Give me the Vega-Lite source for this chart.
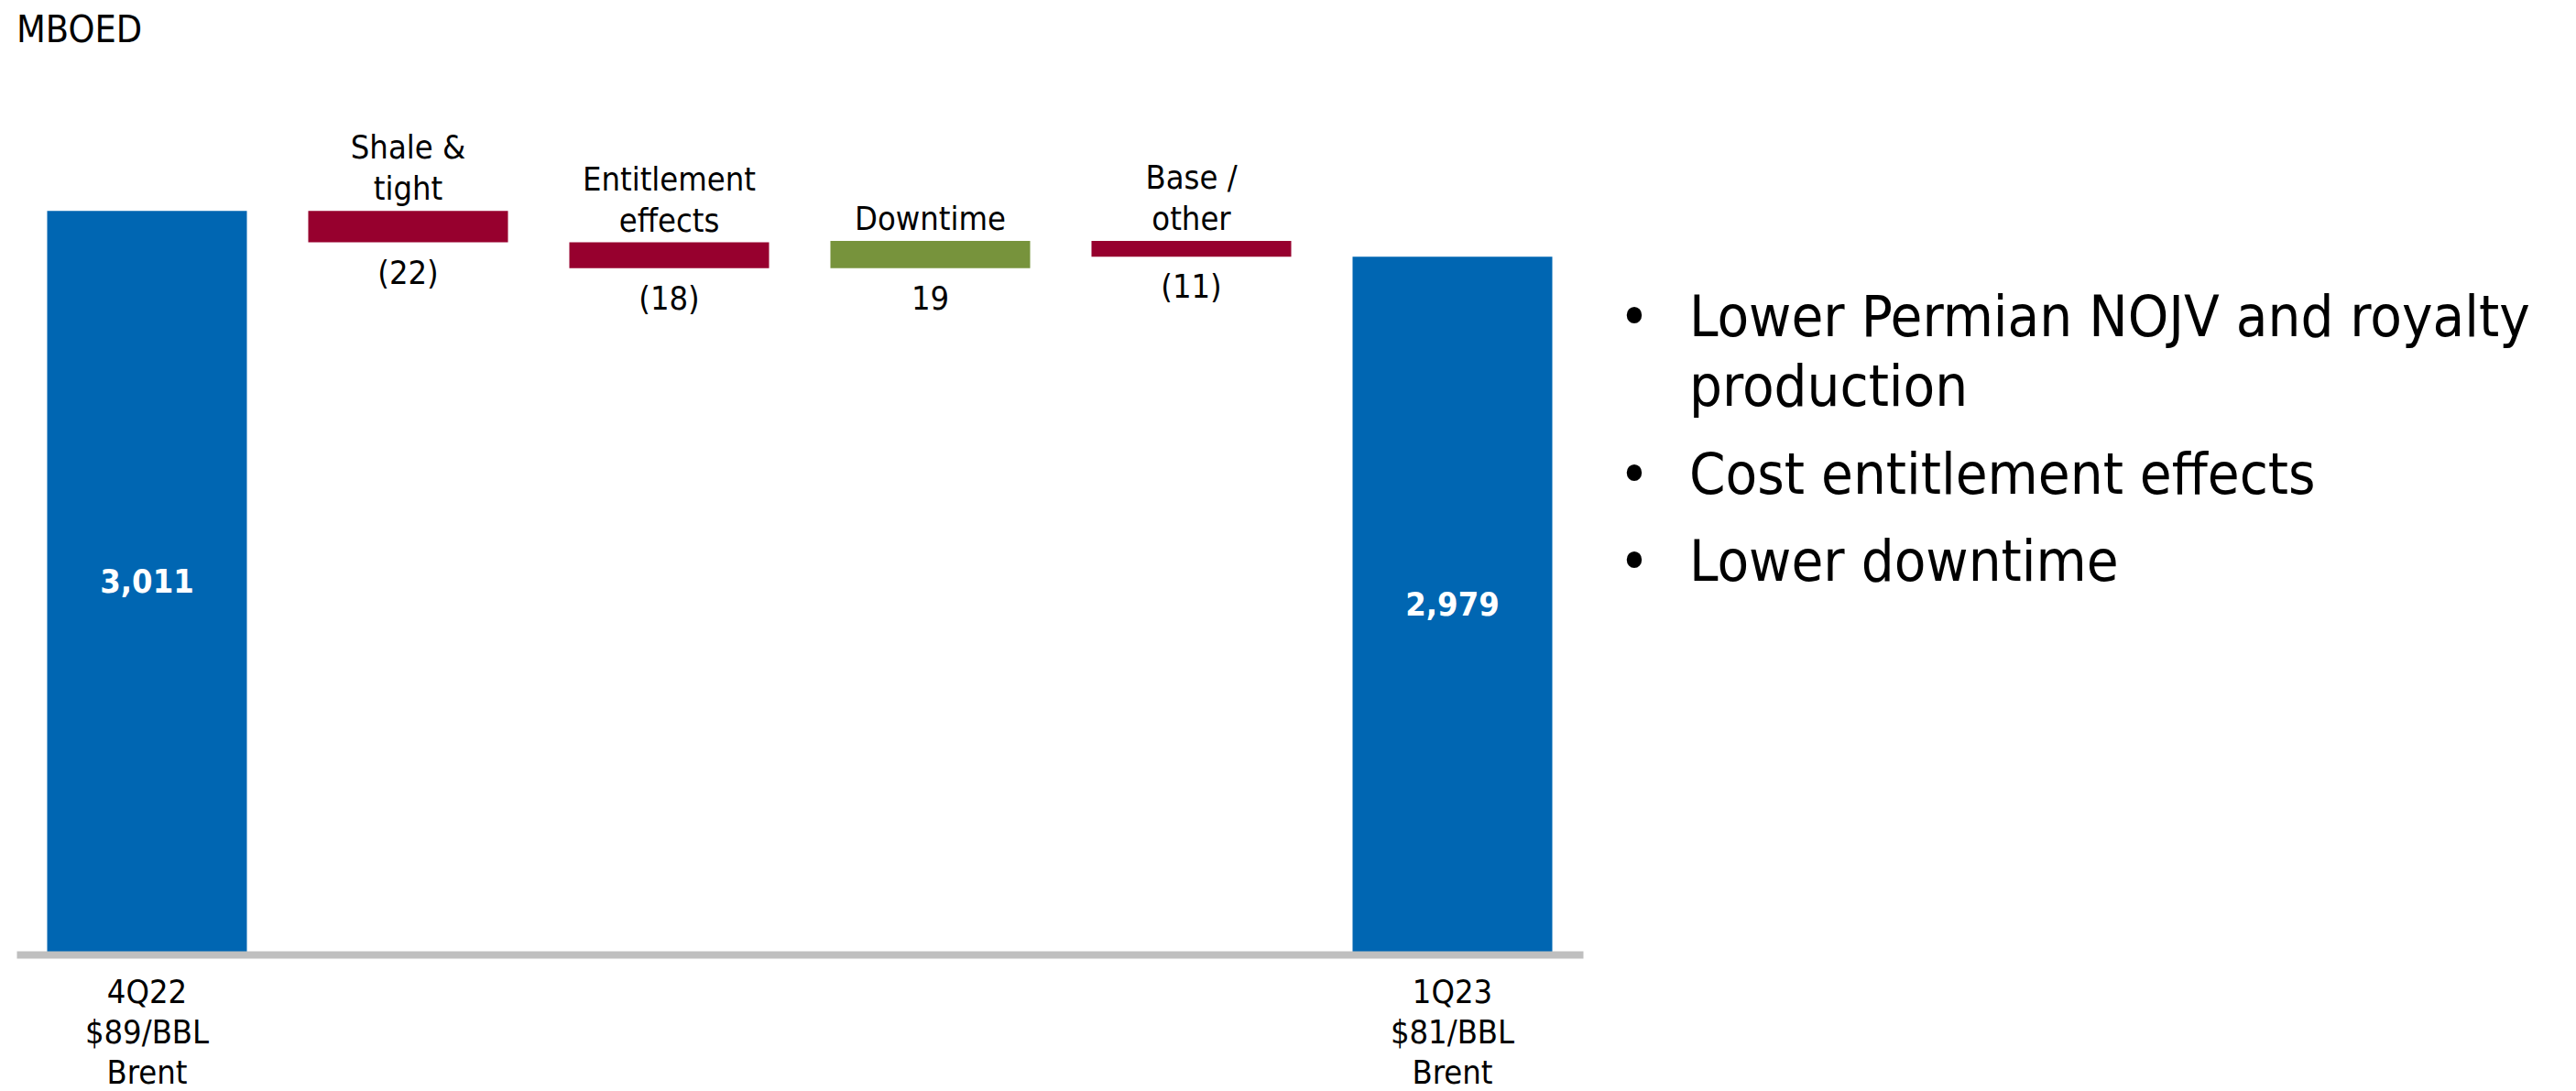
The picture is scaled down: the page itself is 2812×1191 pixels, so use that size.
{
  "$schema": "https://vega.github.io/schema/vega-lite/v6.json",
  "padding": {"left": 18, "top": 13, "right": 0, "bottom": 0},
  "background": "white",
  "title": {"text": "MBOED", "anchor": "start", "frame": "group", "fontSize": 41, "font": "DejaVu Sans Condensed", "fontWeight": "normal", "color": "#000000", "baseline": "top", "offset": 46},
  "config": {"view": {"stroke": null}, "font": "DejaVu Sans Condensed"},
  "bounds": "flush",
  "spacing": 56,
  "hconcat": [
    {
      "width": 1710,
      "height": 941,
      "data": {"values": [
        {"cat": "4Q22|$89/BBL|Brent", "kind": "total", "start": 0, "end": 3011, "lab": "3,011"},
        {"cat": "Shale &|tight", "kind": "down", "start": 3011, "end": 2989, "lab": "(22)"},
        {"cat": "Entitlement|effects", "kind": "down", "start": 2989, "end": 2971, "lab": "(18)"},
        {"cat": "Downtime", "kind": "up", "start": 2971, "end": 2990, "lab": "19"},
        {"cat": "Base /|other", "kind": "down", "start": 2990, "end": 2979, "lab": "(11)"},
        {"cat": "1Q23|$81/BBL|Brent", "kind": "total", "start": 0, "end": 2979, "lab": "2,979"}
      ]},
      "transform": [
        {"calculate": "min(datum.start, datum.end)", "as": "lo"},
        {"calculate": "max(datum.start, datum.end)", "as": "hi"},
        {"calculate": "(max(datum.start, 2490) + datum.end) / 2", "as": "mid"}
      ],
      "encoding": {
        "x": {
          "field": "cat", "type": "nominal", "sort": null,
          "scale": {"paddingInner": 0.235, "paddingOuter": 0.1175},
          "axis": {
            "title": null, "ticks": false, "tickSize": 0, "labelPadding": 24,
            "labelFontSize": 36, "labelColor": "#000000", "labelLineHeight": 44,
            "labelFont": "DejaVu Sans Condensed",
            "labelExpr": "indexof(datum.value, 'Brent') >= 0 ? split(datum.value, '|') : ''",
            "labelAngle": 0, "labelOverlap": false, "domain": true, "domainColor": "#BFBFBF",
            "domainWidth": 8, "zindex": 1, "grid": false
          }
        }
      },
      "layer": [
        {
          "mark": {"type": "bar"},
          "encoding": {
            "y": {"field": "start", "type": "quantitative", "scale": {"domain": [2490, 3094], "zero": false, "nice": false, "clamp": true}, "axis": null},
            "y2": {"field": "end"},
            "color": {"field": "kind", "type": "nominal", "scale": {"domain": ["total", "down", "up"], "range": ["#0066B2", "#97002E", "#77933C"]}, "legend": null}
          }
        },
        {
          "transform": [{"filter": "datum.kind == 'total'"}],
          "mark": {"type": "text", "color": "#FFFFFF", "fontWeight": "bold", "fontSize": 36, "baseline": "middle", "align": "center"},
          "encoding": {
            "y": {"field": "mid", "type": "quantitative", "scale": {"domain": [2490, 3094], "zero": false, "nice": false, "clamp": true}, "axis": null},
            "text": {"field": "lab"}
          }
        },
        {
          "transform": [{"filter": "datum.kind != 'total'"}],
          "mark": {"type": "text", "color": "#000000", "fontSize": 36, "baseline": "top", "align": "center", "dy": 17},
          "encoding": {
            "y": {"field": "lo", "type": "quantitative", "scale": {"domain": [2490, 3094], "zero": false, "nice": false, "clamp": true}, "axis": null},
            "text": {"field": "lab"}
          }
        },
        {
          "transform": [{"filter": "datum.kind != 'total' && indexof(datum.cat, '|') < 0"}],
          "mark": {"type": "text", "color": "#000000", "fontSize": 36, "baseline": "bottom", "align": "center", "dy": -4, "lineBreak": "|", "lineHeight": 45},
          "encoding": {
            "y": {"field": "hi", "type": "quantitative", "scale": {"domain": [2490, 3094], "zero": false, "nice": false, "clamp": true}, "axis": null},
            "text": {"field": "cat"}
          }
        },
        {
          "transform": [{"filter": "datum.kind != 'total' && indexof(datum.cat, '|') >= 0"}],
          "mark": {"type": "text", "color": "#000000", "fontSize": 36, "baseline": "bottom", "align": "center", "dy": -49, "lineBreak": "|", "lineHeight": 45},
          "encoding": {
            "y": {"field": "hi", "type": "quantitative", "scale": {"domain": [2490, 3094], "zero": false, "nice": false, "clamp": true}, "axis": null},
            "text": {"field": "cat"}
          }
        }
      ]
    },
    {
      "width": 60,
      "height": 941,
      "data": {"values": [
        {"n": "1", "dot": "•", "txt": "Lower Permian NOJV and royalty|production"},
        {"n": "2", "dot": "•", "txt": "Cost entitlement effects"},
        {"n": "3", "dot": "•", "txt": "Lower downtime"}
      ]},
      "encoding": {
        "y": {"field": "n", "type": "ordinal", "scale": {"type": "point", "range": [355, 546], "padding": 0}, "axis": null}
      },
      "layer": [
        {
          "transform": [{"filter": "indexof(datum.txt, '|') < 0"}],
          "mark": {"type": "text", "align": "center", "baseline": "bottom", "fontSize": 63, "color": "#000000"},
          "encoding": {
            "x": {"datum": "dot", "type": "nominal", "scale": {"type": "point", "domain": ["dot", "text"], "padding": 0}, "axis": null},
            "text": {"field": "dot"}
          }
        },
        {
          "transform": [{"filter": "indexof(datum.txt, '|') >= 0"}],
          "mark": {"type": "text", "align": "center", "baseline": "bottom", "fontSize": 63, "color": "#000000", "dy": -76},
          "encoding": {
            "x": {"datum": "dot", "type": "nominal", "scale": {"type": "point", "domain": ["dot", "text"], "padding": 0}, "axis": null},
            "text": {"field": "dot"}
          }
        },
        {
          "transform": [{"filter": "indexof(datum.txt, '|') < 0"}],
          "mark": {"type": "text", "align": "left", "baseline": "bottom", "fontSize": 63, "lineBreak": "|", "lineHeight": 76, "color": "#000000"},
          "encoding": {
            "x": {"datum": "text", "type": "nominal", "scale": {"type": "point", "domain": ["dot", "text"], "padding": 0}, "axis": null},
            "text": {"field": "txt"}
          }
        },
        {
          "transform": [{"filter": "indexof(datum.txt, '|') >= 0"}],
          "mark": {"type": "text", "align": "left", "baseline": "bottom", "fontSize": 63, "lineBreak": "|", "lineHeight": 76, "color": "#000000", "dy": -76},
          "encoding": {
            "x": {"datum": "text", "type": "nominal", "scale": {"type": "point", "domain": ["dot", "text"], "padding": 0}, "axis": null},
            "text": {"field": "txt"}
          }
        }
      ]
    }
  ]
}
